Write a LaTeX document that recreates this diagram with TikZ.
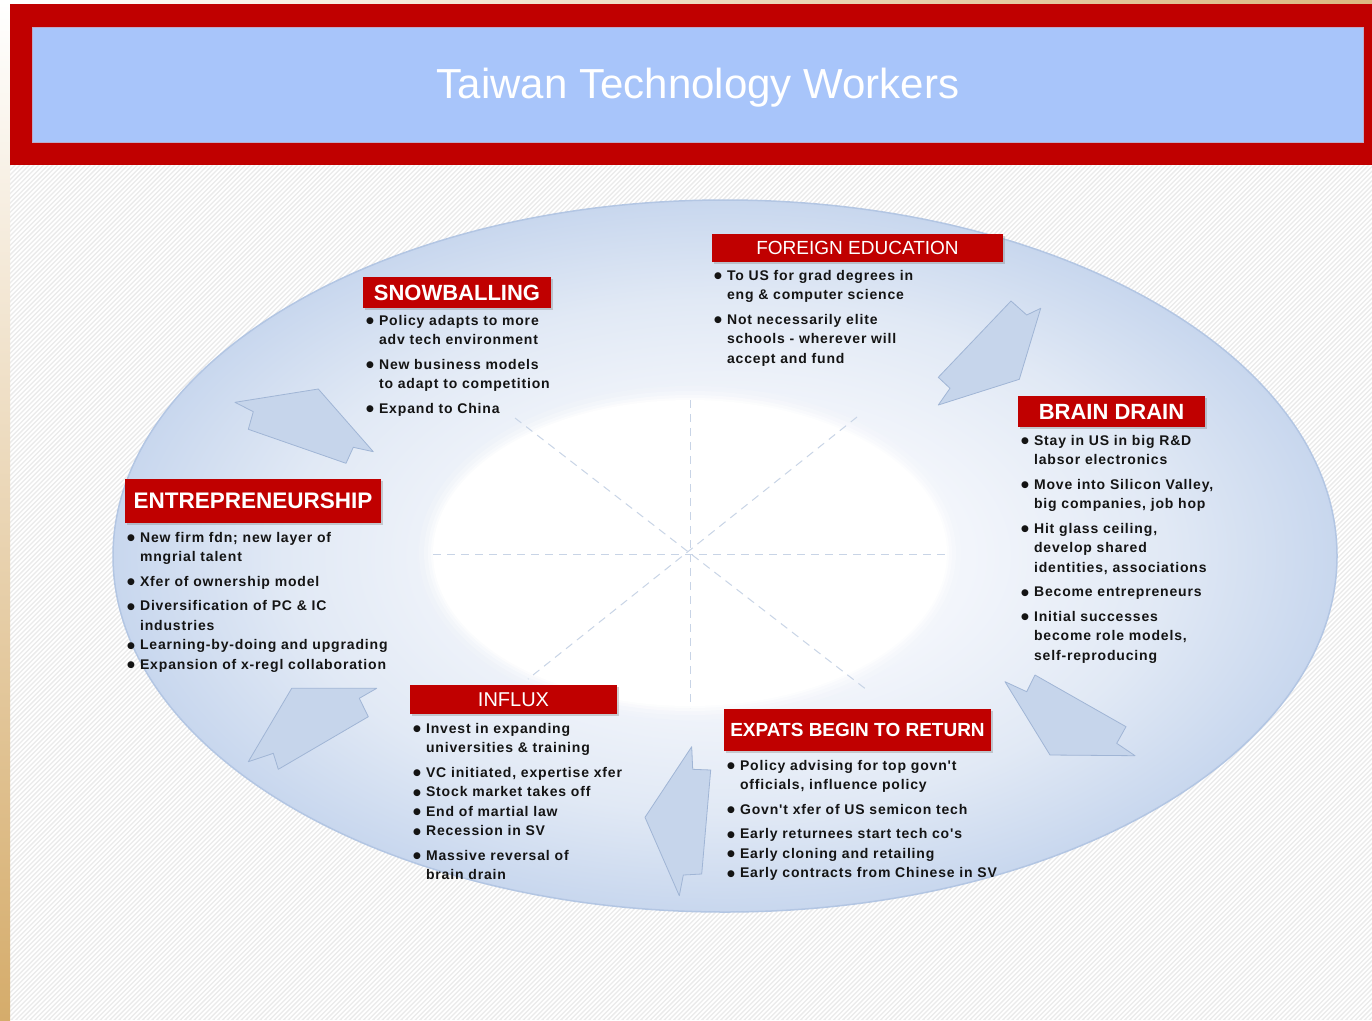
\documentclass[tikz,border=0pt]{standalone}
\usepackage{fontspec}
\setmainfont{Liberation Sans}
\newfontfamily\itemfont{Liberation Sans}[LetterSpace=6]
\newfontfamily\dotfont{DejaVu Sans}
\usetikzlibrary{shadows}

\definecolor{bandred}{HTML}{C00000}
\definecolor{titleblue}{HTML}{A8C5FA}
\definecolor{titleedge}{HTML}{BCAAC8}
\definecolor{ringcore}{HTML}{F8FAFD}
\definecolor{ringlight}{HTML}{F2F5FB}
\definecolor{ringmid}{HTML}{E1E9F5}
\definecolor{ringblue}{HTML}{C8D7EE}
\definecolor{ringedge}{HTML}{B3C6E3}
\definecolor{arrowfill}{HTML}{C6D5EB}
\definecolor{arrowedge}{HTML}{A0B5D5}
\definecolor{spokeblue}{HTML}{C8D4E6}
\definecolor{hatchgray}{HTML}{EBEBEB}
\definecolor{tan}{HTML}{D5AC6B}
\definecolor{inktext}{HTML}{141414}

% pale centre deepening to light blue at the rim
\pgfdeclareradialshading{ringshade}{\pgfpoint{0bp}{0bp}}{%
  color(0bp)=(ringcore); color(10bp)=(ringlight); color(18bp)=(ringmid);
  color(25bp)=(ringblue); color(50bp)=(ringblue)}

\newcommand{\gap}{\\[5pt]}
\newcommand{\dotmark}{\raisebox{1.3pt}{\dotfont\fontsize{9}{9}\selectfont ●}}

\tikzset{
  header/.style={fill=bandred, text=white, inner sep=0pt,
    drop shadow={shadow xshift=1.5pt, shadow yshift=-1.5pt, opacity=0.35}},
  headbold/.style={font=\bfseries\fontsize{#1}{#1}\selectfont},
  headreg/.style={font=\fontsize{#1}{#1}\selectfont},
  itemblock/.style={anchor=base west, inner sep=0pt, text=inktext,
    font=\itemfont\bfseries\fontsize{14}{19.5}\selectfont},
  flowarrow/.style={fill=arrowfill, draw=arrowedge, line width=0.8pt, line join=round},
  spokeline/.style={draw=spokeblue, line width=1pt, dash pattern=on 8pt off 6pt},
}

\begin{document}
\begin{tikzpicture}[x=1pt, y=-1pt]
\useasboundingbox (0,0) rectangle (1372,1020);

% page background: fine diagonal hatching
\begin{scope}
  \clip (10,4) rectangle (1372,1020);
  \fill[hatchgray] (10,4) rectangle (1372,1020);
  \foreach \i in {0,4.7,...,2400}
    \draw[white, line width=1.7pt] (\i-1016,1020) -- (\i,4);
\end{scope}
\shade[top color=white, bottom color=tan] (0,0) rectangle (10,1020);
\shade[left color=white, right color=tan!85] (10,0) rectangle (1372,4);

% title band
\fill[bandred] (10,4) rectangle (1372,165);
\node[draw=titleedge, fill=titleblue, line width=1pt, inner sep=0pt,
      minimum width=1331pt, minimum height=115pt] (titlebox) at (697.5,84.5) {};
\node[text=white, inner sep=0pt, font=\fontsize{42}{48}\selectfont]
      (title) at (698,88) {Taiwan Technology Workers};

% cycle ring
\shadedraw[shading=ringshade, draw=ringedge, line width=1.5pt]
  (725,556) ellipse [x radius=612, y radius=356];
% white hub with a softened rim
\foreach \g/\o in {14/0.15, 9/0.25, 5/0.4, 2/0.6}
  \fill[white, opacity=\o] (690,553) ellipse [x radius=257+\g, y radius=153+\g];
\fill[white] (690,553) ellipse [x radius=257, y radius=153];

% dashed spokes through the hub
\coordinate (hub) at (690,554);
\coordinate (spW) at (433,554);  \coordinate (spE) at (945,554);
\coordinate (spN) at (690,400);  \coordinate (spS) at (690,708);
\coordinate (spNW) at (515,418); \coordinate (spSE) at (867,690);
\coordinate (spNE) at (857,417); \coordinate (spSW) at (528,679);
\draw[spokeline] (spW) -- (spE);
\draw[spokeline] (spN) -- (spS);
\draw[spokeline] (spNW) -- (spSE);
\draw[spokeline] (spNE) -- (spSW);

% block arrows running clockwise round the ring
\draw[flowarrow] (235,402.3) -- (318.3,389) -- (373.3,451.7) -- (353.3,447.3)
  -- (346,463.3) -- (248.3,429.3) -- (253.3,411.7) -- cycle;
\draw[flowarrow] (1040.7,308.3) -- (1026.7,315) -- (1011,301) -- (938.3,377.3)
  -- (950,388.3) -- (938.3,405) -- (1019.3,379.3) -- cycle;
\draw[flowarrow] (1005,681.7) -- (1026.7,691.7) -- (1035,675) -- (1126,726.7)
  -- (1116.7,743.3) -- (1135,755.7) -- (1050,755) -- cycle;
\draw[flowarrow] (691.7,746.7) -- (692.7,769.3) -- (710.7,770) -- (701.7,874)
  -- (683.3,875) -- (679.3,895.7) -- (645,817.3) -- cycle;
\draw[flowarrow] (291.7,688.3) -- (376.7,688.3) -- (359.3,698.3) -- (368.3,716.7)
  -- (278.3,769.3) -- (273.3,753.3) -- (248.3,761.7) -- cycle;

% stage headers
\node[header, headbold=22, minimum width=188pt, minimum height=31pt]
  (snowhead) at (457,292.5) {SNOWBALLING};
\node[header, headreg=19, minimum width=291pt, minimum height=28pt]
  (eduhead) at (857.5,248) {FOREIGN EDUCATION};
\node[header, headbold=22, minimum width=187pt, minimum height=31pt]
  (drainhead) at (1111.5,411.5) {BRAIN DRAIN};
\node[header, headbold=22.5, minimum width=256pt, minimum height=44pt]
  (enthead) at (253,501) {ENTREPRENEURSHIP};
\node[header, headreg=20, minimum width=207pt, minimum height=29pt]
  (influxhead) at (513.5,699.5) {INFLUX};
\node[header, headbold=19, minimum width=267pt, minimum height=42pt]
  (expathead) at (857.5,730) {EXPATS BEGIN TO RETURN};

% stage details
\node[itemblock] (snowtext) at (366,325) {%
  \begin{tabular}[t]{@{}l@{\hspace{5pt}}l@{}}
  \dotmark & Policy adapts to more\\
           & adv tech environment\gap
  \dotmark & New business models\\
           & to adapt to competition\gap
  \dotmark & Expand to China
  \end{tabular}};

\node[itemblock] (edutext) at (714,280) {%
  \begin{tabular}[t]{@{}l@{\hspace{5pt}}l@{}}
  \dotmark & To US for grad degrees in\\
           & eng \& computer science\gap
  \dotmark & Not necessarily elite\\
           & schools - wherever will\\
           & accept and fund
  \end{tabular}};

\node[itemblock] (draintext) at (1021,445) {%
  \begin{tabular}[t]{@{}l@{\hspace{5pt}}l@{}}
  \dotmark & Stay in US in big R\&D\\
           & labsor electronics\gap
  \dotmark & Move into Silicon Valley,\\
           & big companies, job hop\gap
  \dotmark & Hit glass ceiling,\\
           & develop shared\\
           & identities, associations\gap
  \dotmark & Become entrepreneurs\gap
  \dotmark & Initial successes\\
           & become role models,\\
           & self-reproducing
  \end{tabular}};

\node[itemblock] (enttext) at (127,542) {%
  \begin{tabular}[t]{@{}l@{\hspace{5pt}}l@{}}
  \dotmark & New firm fdn; new layer of\\
           & mngrial talent\gap
  \dotmark & Xfer of ownership model\gap
  \dotmark & Diversification of PC \& IC\\
           & industries\\
  \dotmark & Learning-by-doing and upgrading\\
  \dotmark & Expansion of x-regl collaboration
  \end{tabular}};

\node[itemblock] (influxtext) at (413,733) {%
  \begin{tabular}[t]{@{}l@{\hspace{5pt}}l@{}}
  \dotmark & Invest in expanding\\
           & universities \& training\gap
  \dotmark & VC initiated, expertise xfer\\
  \dotmark & Stock market takes off\\
  \dotmark & End of martial law\\
  \dotmark & Recession in SV\gap
  \dotmark & Massive reversal of\\
           & brain drain
  \end{tabular}};

\node[itemblock] (expattext) at (727,770) {%
  \begin{tabular}[t]{@{}l@{\hspace{5pt}}l@{}}
  \dotmark & Policy advising for top govn't\\
           & officials, influence policy\gap
  \dotmark & Govn't xfer of US semicon tech\gap
  \dotmark & Early returnees start tech co's\\
  \dotmark & Early cloning and retailing\\
  \dotmark & Early contracts from Chinese in SV
  \end{tabular}};
\end{tikzpicture}
\end{document}
